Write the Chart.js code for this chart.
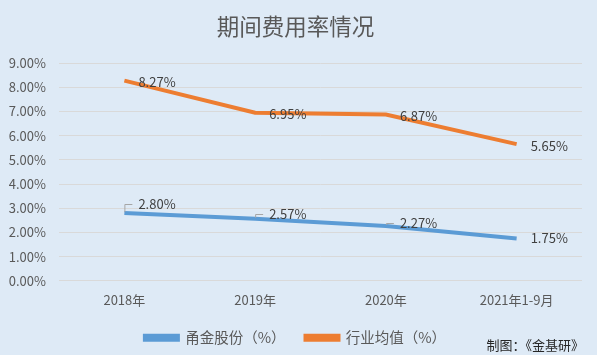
<!DOCTYPE html>
<html><head><meta charset="utf-8">
<script src="https://cdn.jsdelivr.net/npm/chart.js@4"></script>
<style>
html,body{margin:0;padding:0;background:#DEEAF6;}
#wrap{width:597px;height:355px;position:relative;}
</style></head>
<body><div id="wrap"><canvas id="c" width="597" height="355"></canvas></div>
<script>
const categories = ['2018年','2019年','2020年','2021年1-9月'];
const yongjin = [2.80, 2.57, 2.27, 1.75];
const industry = [8.27, 6.95, 6.87, 5.65];
const seriesNames = ['甬金股份（%）','行业均值（%）'];
const titleText = '期间费用率情况';
const footnote = '制图：《金基研》';
const yTicks = [0,1,2,3,4,5,6,7,8,9];

const labelStyle = {
  0: {dy:[-9,-5,-3,0], leader:[true,true,true,false]},
  1: {dy:[1.5,1.5,1.5,1.5], leader:[false,false,false,false]}
};

const labelsPlugin = {
  id:'labels',
  afterDatasetsDraw(chart){
    const ctx = chart.ctx;
    ctx.save();
    ctx.font = '13px "Noto Sans CJK SC", sans-serif';
    ctx.fillStyle = '#404040';
    ctx.textBaseline = 'middle';
    ctx.textAlign = 'left';
    chart.data.datasets.forEach((ds, di) => {
      const meta = chart.getDatasetMeta(di);
      meta.data.forEach((pt, i) => {
        const st = labelStyle[di];
        const lx = pt.x + 14, ly = pt.y + st.dy[i];
        if (st.leader[i]) {
          ctx.strokeStyle = '#A6A6A6';
          ctx.lineWidth = 1;
          ctx.beginPath();
          ctx.moveTo(pt.x + 0.5, pt.y - 1);
          ctx.lineTo(pt.x + 0.5, Math.round(ly) + 0.5);
          ctx.lineTo(pt.x + 8, Math.round(ly) + 0.5);
          ctx.stroke();
        }
        ctx.fillText(ds.data[i].toFixed(2) + '%', lx, ly);
      });
    });
    ctx.font = '13px "Noto Sans CJK SC", sans-serif';
    ctx.fillStyle = '#262626';
    ctx.textAlign = 'right';
    ctx.fillText(footnote, 584, 345);
    ctx.restore();
  }
};

const bgPlugin = {
  id:'bg',
  beforeDraw(chart){
    const ctx = chart.ctx;
    ctx.save();
    ctx.fillStyle = '#DEEAF6';
    ctx.fillRect(0,0,chart.width,chart.height);
    ctx.restore();
  }
};

new Chart(document.getElementById('c'), {
  type:'line',
  data:{
    labels: categories,
    datasets:[
      {label: seriesNames[0], data: yongjin, borderColor:'#5B9BD5', backgroundColor:'#5B9BD5', borderWidth:4, pointRadius:0, tension:0},
      {label: seriesNames[1], data: industry, borderColor:'#ED7D31', backgroundColor:'#ED7D31', borderWidth:4, pointRadius:0, tension:0}
    ]
  },
  options:{
    responsive:false,
    animation:false,
    devicePixelRatio:1,
    layout:{padding:{left:9,right:15,top:0,bottom:0}},
    plugins:{
      title:{display:true, text:titleText, color:'#595959', font:{size:22.5, family:'"Noto Sans CJK SC", sans-serif', weight:'normal'}, padding:{top:13,bottom:23}},
      legend:{display:true, position:'bottom', labels:{boxWidth:33, boxHeight:4, color:'#595959', font:{size:14.5, family:'"Noto Sans CJK SC", sans-serif'}, padding:20}},
      tooltip:{enabled:false}
    },
    scales:{
      x:{
        offset:true,
        grid:{display:false},
        border:{display:false},
        ticks:{color:'#595959', font:{size:13, family:'"Noto Sans CJK SC", sans-serif'}, padding:3}
      },
      y:{
        min:0, max:9,
        afterBuildTicks(scale){ scale.ticks = yTicks.map(v=>({value:v})); },
        grid:{color:'#D9D9D9', lineWidth:1, drawTicks:false},
        border:{display:false},
        ticks:{color:'#595959', font:{size:13, family:'"Noto Sans CJK SC", sans-serif'}, padding:13, callback:v=>v.toFixed(2)+'%'},
        afterFit(scale){ scale.width = 50; }
      }
    }
  },
  plugins:[bgPlugin, labelsPlugin]
});
</script></body></html>
